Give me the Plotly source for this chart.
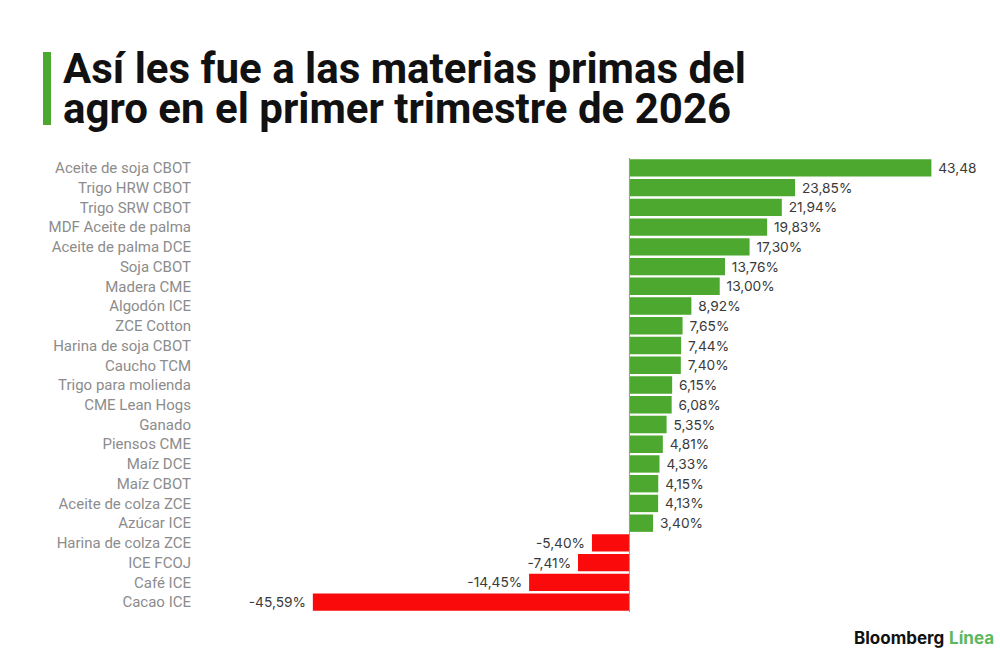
import plotly.graph_objects as go

categories = [
    "Aceite de soja CBOT", "Trigo HRW CBOT", "Trigo SRW CBOT", "MDF Aceite de palma",
    "Aceite de palma DCE", "Soja CBOT", "Madera CME", "Algodón ICE", "ZCE Cotton",
    "Harina de soja CBOT", "Caucho TCM", "Trigo para molienda", "CME Lean Hogs",
    "Ganado", "Piensos CME", "Maíz DCE", "Maíz CBOT", "Aceite de colza ZCE",
    "Azúcar ICE", "Harina de colza ZCE", "ICE FCOJ", "Café ICE", "Cacao ICE",
]
values = [43.48, 23.85, 21.94, 19.83, 17.30, 13.76, 13.00, 8.92, 7.65, 7.44, 7.40,
          6.15, 6.08, 5.35, 4.81, 4.33, 4.15, 4.13, 3.40, -5.40, -7.41, -14.45, -45.59]
value_labels = ["43,48", "23,85%", "21,94%", "19,83%", "17,30%", "13,76%", "13,00%",
                "8,92%", "7,65%", "7,44%", "7,40%", "6,15%", "6,08%", "5,35%", "4,81%",
                "4,33%", "4,15%", "4,13%", "3,40%", "-5,40%", "-7,41%", "-14,45%", "-45,59%"]

title_line1 = "Así les fue a las materias primas del"
title_line2 = "agro en el primer trimestre de 2026"

GREEN = "#4ca82f"
RED = "#fa0a0a"
colors = [GREEN if v >= 0 else RED for v in values]
shown_labels = [(" " + t) if v >= 0 else (t + " ") for t, v in zip(value_labels, values)]

W, H = 1000, 660
ML, MR, MT, MB = 310, 65, 158, 48
PW, PH = W - ML - MR, H - MT - MB


def px_x(px):
    return (px - ML) / PW


def px_y(py):
    return (H - MB - py) / PH


fig = go.Figure()
fig.add_trace(go.Bar(
    x=values, y=categories, orientation="h",
    marker=dict(color=colors, line=dict(width=0)),
    text=shown_labels, textposition="outside", cliponaxis=False,
    textfont=dict(family="Inter", size=15, color="#3a3a3a"),
    hoverinfo="skip",
))

fig.add_shape(type="line", xref="x", yref="y", x0=0, x1=0, y0=-0.5, y1=22.85,
              line=dict(color="#9a9a9a", width=1), layer="above")

fig.add_shape(type="rect", xref="paper", yref="paper",
              x0=px_x(43), x1=px_x(51), y0=px_y(125), y1=px_y(52),
              fillcolor=GREEN, line=dict(width=0))

fig.add_annotation(xref="paper", yref="paper", x=px_x(61), y=px_y(69),
                   xanchor="left", yanchor="middle", showarrow=False,
                   text="<b>" + title_line1 + "</b>",
                   font=dict(family="Roboto", size=42, color="#111111"))
fig.add_annotation(xref="paper", yref="paper", x=px_x(61), y=px_y(109),
                   xanchor="left", yanchor="middle", showarrow=False,
                   text="<b>" + title_line2 + "</b>",
                   font=dict(family="Roboto", size=42, color="#111111"))

fig.add_annotation(xref="paper", yref="paper", x=px_x(996), y=px_y(638),
                   xanchor="right", yanchor="middle", showarrow=False,
                   text="<b>Bloomberg</b> <b><span style='color:#5cb85c'>Línea</span></b>",
                   font=dict(family="Inter", size=17, color="#111111"))

fig.update_layout(
    width=W, height=H,
    margin=dict(l=ML, r=MR, t=MT, b=MB),
    paper_bgcolor="white", plot_bgcolor="white",
    bargap=0.12, showlegend=False,
    xaxis=dict(range=[-46, 44], visible=False, zeroline=False, showgrid=False),
    yaxis=dict(range=[22.5, -0.5], showgrid=False, zeroline=False, showline=False,
               ticks="", ticklabelstandoff=118,
               tickfont=dict(family="Roboto", size=15, color="#8c8c8c")),
)

fig.write_html("out.html", config={"displayModeBar": False})

with open("out.html", "r", encoding="utf-8") as f:
    html = f.read()
html = html.replace("<body>", '<body style="margin:0;padding:0;">', 1)
with open("out.html", "w", encoding="utf-8") as f:
    f.write(html)
